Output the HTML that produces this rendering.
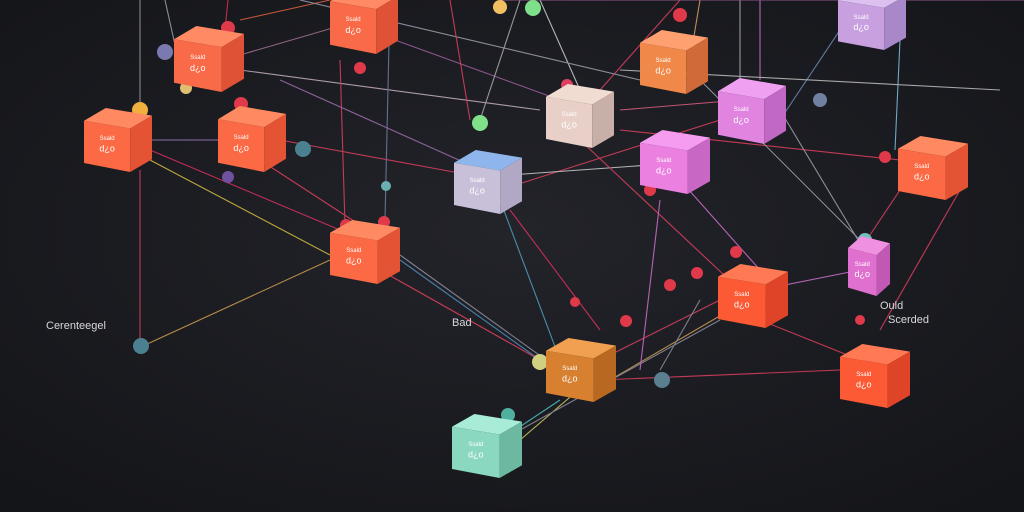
<!DOCTYPE html>
<html><head><meta charset="utf-8"><style>
html,body{margin:0;padding:0;background:#1b1c21;width:1024px;height:512px;overflow:hidden}
svg{position:absolute;left:0;top:0}
.lbl{position:absolute;font-family:"Liberation Sans",sans-serif;font-size:11px;color:#d8d8dc}
</style></head><body>
<svg id="s" width="1024" height="512" viewBox="0 0 1024 512">
<defs><radialGradient id="bg" cx="50%" cy="45%" r="70%"><stop offset="0" stop-color="#23242a"/><stop offset="1" stop-color="#141519"/></radialGradient></defs>
<rect width="1024" height="512" fill="url(#bg)"/>
<g id="lines" fill="none" stroke-width="1.1" opacity="0.85"></g>
<g id="dots"></g>
<g id="cubes"></g>
</svg>
<div class="lbl" style="left:46px;top:320px">Cerenteegel</div>
<div class="lbl" style="left:452px;top:317px">Bad</div>
<div class="lbl" style="left:880px;top:300px">Ould</div>
<div class="lbl" style="left:888px;top:314px">Scerded</div>
<script>
const NS="http://www.w3.org/2000/svg";
function el(p,t,a){const e=document.createElementNS(NS,t);for(const k in a)e.setAttribute(k,a[k]);document.getElementById(p).appendChild(e);return e;}
const L=[
[140,0,140,110,"#9a9aa0"],[165,0,175,45,"#a0a0b0"],[228,0,225,30,"#e0304a"],[240,20,330,0,"#e06040"],
[240,70,540,110,"#c8b0c0"],[240,55,360,20,"#a07090"],[150,140,230,140,"#a080c0"],[150,150,340,230,"#e03060"],
[150,160,330,255,"#d8c040"],[140,170,140,345,"#e04060"],[145,345,330,260,"#d0a050"],[280,140,470,175,"#e04060"],
[260,160,360,225,"#e04060"],[340,60,345,225,"#e04060"],[390,0,385,220,"#7080a0"],[395,40,560,100,"#a060a0"],
[280,80,470,165,"#a070b0"],[400,260,540,360,"#5090c0"],[400,255,560,370,"#9090a0"],[380,270,540,360,"#e04060"],
[500,200,560,360,"#50a0c0"],[510,210,600,330,"#e03060"],[500,190,720,120,"#e04060"],[510,175,650,165,"#d0d0d0"],
[480,120,520,0,"#b0b0b0"],[540,0,580,90,"#d0d0d0"],[600,90,680,0,"#e04060"],[700,0,690,60,"#e0a060"],
[620,110,740,100,"#e06080"],[580,140,740,290,"#e04060"],[620,130,900,160,"#e04060"],[700,80,860,240,"#a0a0b0"],
[780,110,870,260,"#a0a0b0"],[780,120,860,0,"#7090c0"],[900,40,895,150,"#80c0e0"],[760,0,760,80,"#d070d0"],
[680,180,760,270,"#d070d0"],[720,300,600,360,"#e04060"],[730,310,610,380,"#d0a050"],[760,320,860,360,"#e04060"],
[860,270,760,290,"#d070d0"],[900,190,860,250,"#e04060"],[600,380,840,370,"#e04060"],[560,400,500,440,"#50c0c0"],
[590,380,520,440,"#d8d060"],[520,430,720,320,"#9090a0"],[640,370,660,200,"#d070d0"],[740,0,740,80,"#b0b0b0"],
[300,0,640,80,"#a0a0b0"],[560,0,720,0,"#e0a060"],[450,0,470,120,"#e04060"],[700,300,660,370,"#9090a0"],
[500,0,1024,0,"#a060a0"],[620,70,1000,90,"#c0c0c0"],[960,190,880,330,"#e04060"]];
L.forEach(l=>el("lines","line",{x1:l[0],y1:l[1],x2:l[2],y2:l[3],stroke:l[4]}));
const D=[[480,123,8,"#7fe08a"],[533,8,8,"#7fe08a"],[500,7,7,"#f0c060"],[303,149,8,"#4a8090"],[386,186,5,"#6ab0b0"],
[228,28,7,"#e03a4a"],[241,104,7,"#e03a4a"],[360,68,6,"#e03a4a"],[140,110,8,"#f0b040"],[186,88,6,"#e0c070"],
[228,177,6,"#7050a0"],[141,346,8,"#4a8090"],[540,362,8,"#d0d080"],[662,380,8,"#5a8090"],[626,321,6,"#e03a4a"],
[820,100,7,"#7080a0"],[885,157,6,"#e03a4a"],[680,15,7,"#e03a4a"],[865,240,7,"#70c0c0"],[697,273,6,"#e03a4a"],
[670,285,6,"#e03a4a"],[736,252,6,"#e03a4a"],[346,225,6,"#e03a4a"],[384,222,6,"#e03a4a"],[575,302,5,"#e03a4a"],
[508,415,7,"#50b0a0"],[165,52,8,"#7a7ab0"],[567,85,6,"#e04060"],[650,190,6,"#e03a4a"],[860,320,5,"#e03a4a"]];
D.forEach(d=>el("dots","circle",{cx:d[0],cy:d[1],r:d[2],fill:d[3]}));
// x,y,W,H, left,top,right colors
const C=[
[174,26,70,66,"#f86a48","#ff8a64","#e05236"],[330,-12,68,66,"#f86a48","#ff8a64","#e05236"],
[84,108,68,64,"#fb6a44","#ff8a62","#e45434"],[218,106,68,66,"#fb6a44","#ff8a62","#e45434"],
[454,150,68,64,"#c8c0d8","#8eb6ec","#b0a8c4"],[546,84,68,64,"#e8d0c8","#f0dcd0","#c8b0a8"],
[640,30,68,64,"#f0884a","#ffa070","#d06a38"],[718,78,68,66,"#e084e0","#f0a0f0","#c068c4"],
[640,130,70,64,"#ec80e0","#f69cf0","#c868c4"],[838,-12,68,62,"#c8a0e0","#dcc0f0","#a888c8"],
[898,136,70,64,"#fb6a44","#ff8a62","#e45434"],[330,220,70,64,"#fb6a44","#ff8a62","#e45434"],
[848,236,42,60,"#e070d0","#f090e0","#c058b4"],[718,264,70,64,"#fb5a34","#ff7a54","#e04428"],
[546,338,70,64,"#d68030","#f0a050","#b86820"],[840,344,70,64,"#fb5a34","#ff7a54","#e04428"],
[452,414,70,64,"#8ad8c0","#a8ecd8","#6cb8a0"]];
C.forEach(c=>{const[x,y,W,H,lc,tc,rc]=c;const lw=0.68*W;
const A=[x,y+0.2*H],B=[x+lw,y+0.32*H],Cc=[x+W,y+0.12*H],Dd=[x+0.32*W,y],E=[x,y+0.86*H],F=[x+lw,y+H],G=[x+W,y+0.8*H];
const p=a=>a.map(q=>q.join(",")).join(" ");
el("cubes","polygon",{points:p([A,Dd,Cc,B]),fill:tc});
el("cubes","polygon",{points:p([A,B,F,E]),fill:lc});
el("cubes","polygon",{points:p([B,Cc,G,F]),fill:rc});
const t=el("cubes","text",{x:x+lw*0.5,y:y+0.5*H,"font-size":6,fill:"#fff","text-anchor":"middle","font-family":"Liberation Sans"});t.textContent="Ssald";
const t2=el("cubes","text",{x:x+lw*0.5,y:y+0.68*H,"font-size":9,fill:"#fff","text-anchor":"middle","font-family":"Liberation Sans"});t2.textContent="d¿o";
});
</script>
</body></html>
